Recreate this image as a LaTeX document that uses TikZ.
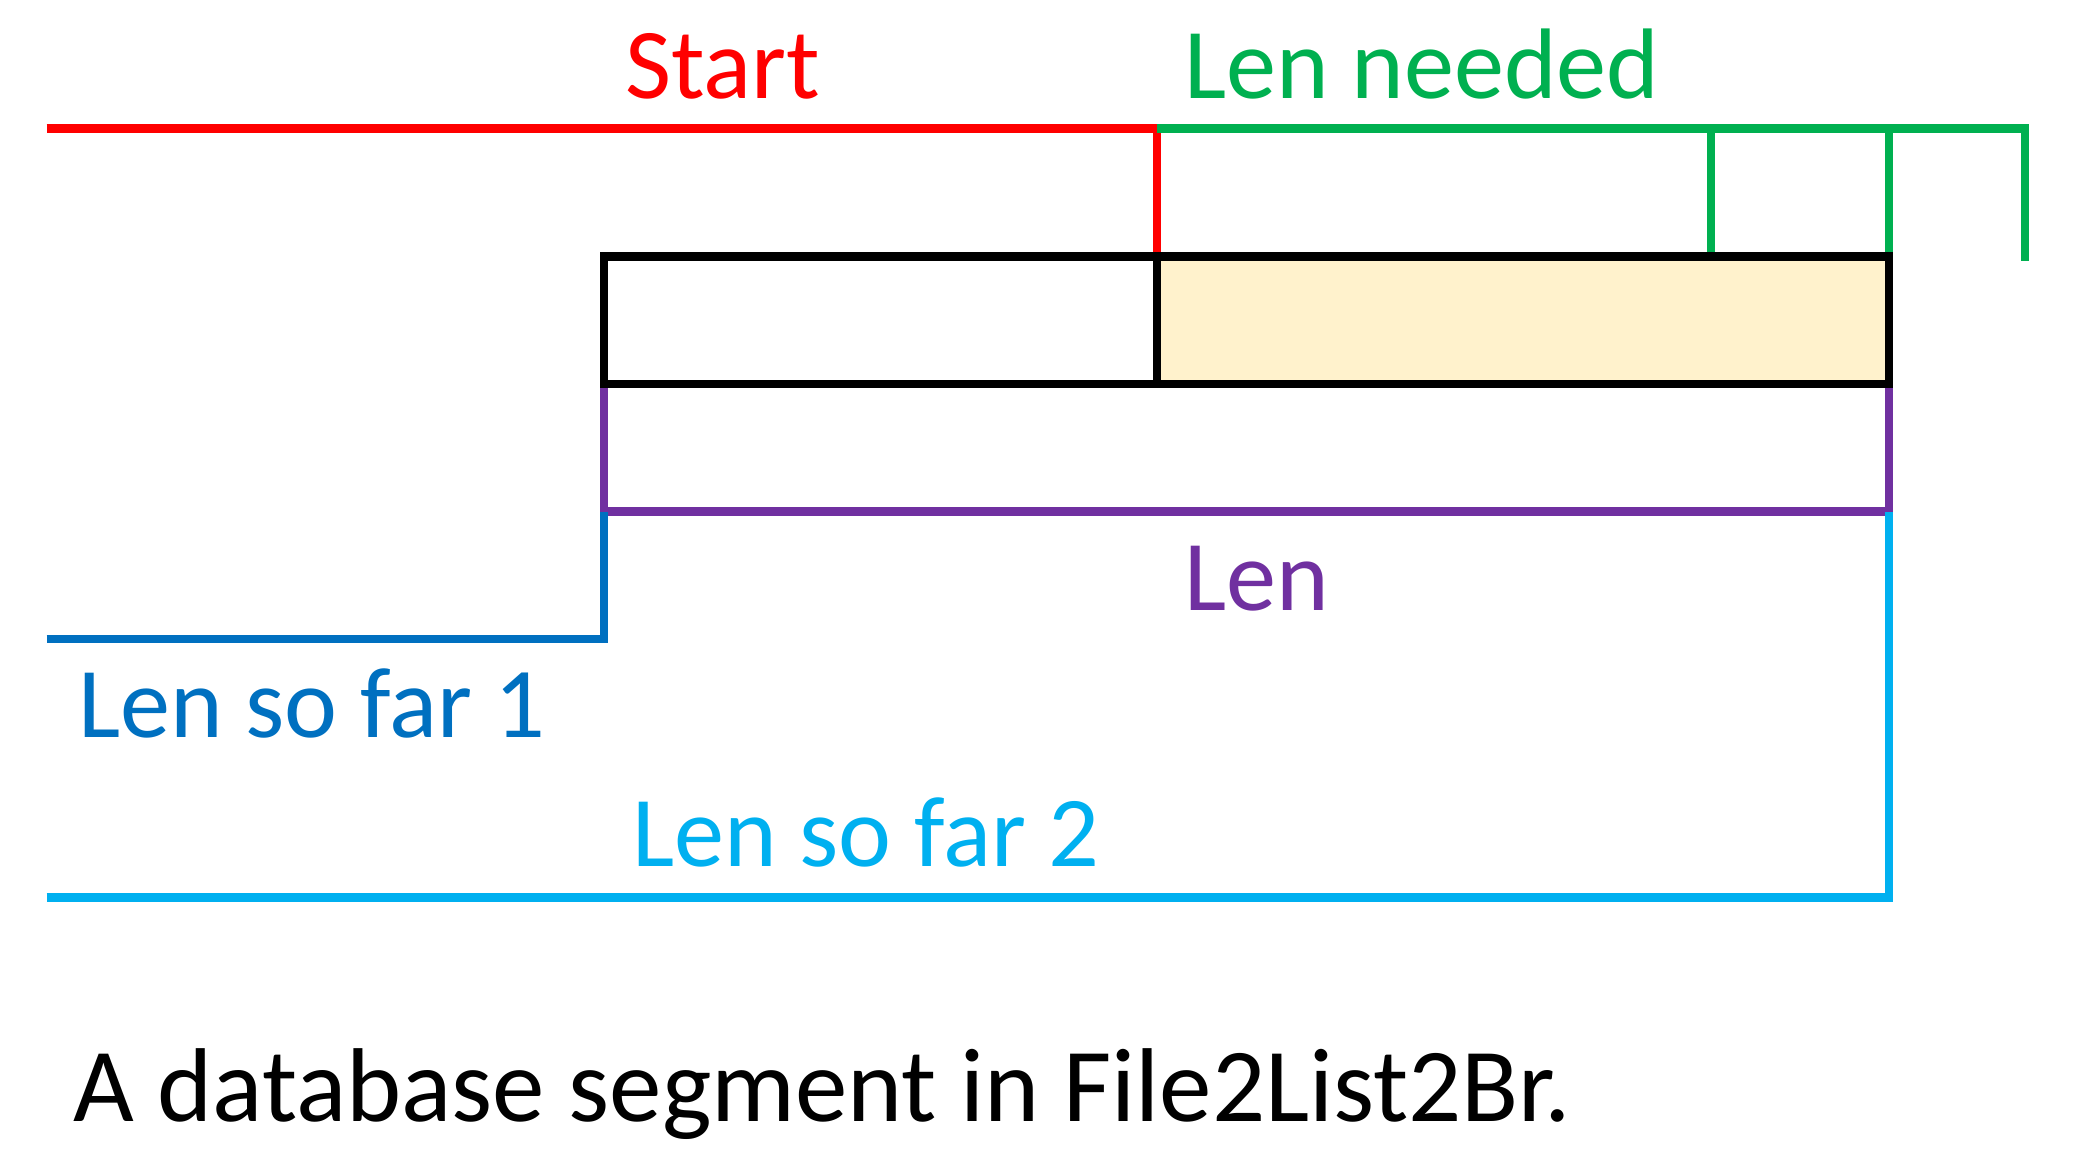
\documentclass[tikz,border=0pt]{standalone}
\usepackage{fontspec}
\setmainfont{Carlito}
\definecolor{startred}{HTML}{FF0000}
\definecolor{neededgreen}{HTML}{00B050}
\definecolor{lenpurple}{HTML}{7030A0}
\definecolor{farone}{HTML}{0070C0}
\definecolor{fartwo}{HTML}{00B0F0}
\definecolor{segfill}{HTML}{FFF2CC}

\begin{document}
\begin{tikzpicture}[x=0.01875cm, y=-0.01875cm, line join=miter,
    every node/.style={inner sep=0pt, anchor=base west, font=\fontsize{53.5}{64}\selectfont},
    mark line/.style={line width=4.4pt},
    box line/.style={line width=4.4pt, black}]
  \useasboundingbox (0,0) rectangle (2080,1150);
  \path
    (604,256.6) coordinate (BoxTL)
    (1157.3,256.6) coordinate (BoxMidT)
    (1157.3,384) coordinate (BoxMidB)
    (1889,256.6) coordinate (BoxTR)
    (604,384) coordinate (BoxBL)
    (1889,384) coordinate (BoxBR);

  % Start and Len needed
  \draw[mark line, startred] (46.7,128.5) -- (1157.3,128.5) -- (BoxMidT);
  \draw[mark line, neededgreen] (1157.3,128.5) -- (2025,128.5) -- (2025,260.7);
  \draw[mark line, neededgreen] (1710.7,128.5) -- (1710.7,256.6);
  \draw[mark line, neededgreen] (1889,128.5) -- (BoxTR);

  % Len
  \draw[mark line, lenpurple] (BoxBL) -- (604,511.5) -- (1889,511.5) -- (BoxBR);

  % Len so far
  \draw[mark line, farone] (46.7,639) -- (604,639) -- (604,511.5);
  \draw[mark line, fartwo] (46.7,897.5) -- (1889,897.5) -- (1889,511.5);

  % the segment
  \fill[segfill] (BoxMidT) rectangle (BoxBR);
  \draw[box line] (BoxTL) rectangle (BoxBR);
  \draw[box line] (BoxMidT) -- (BoxMidB);

  % Labels
  \node[text=startred] (start) at (625,99) {Start};
  \node[text=neededgreen] (needed) at (1184,99) {Len needed};
  \node[text=lenpurple] (len) at (1184,610) {Len};
  \node[text=farone] (sofarone) at (78,737) {Len so far 1};
  \node[text=fartwo] (sofartwo) at (632,866) {Len so far 2};
  \node[font=\fontsize{56}{66}\selectfont] (caption) at (73,1121) {A database segment in File2List2Br.};
\end{tikzpicture}
\end{document}
